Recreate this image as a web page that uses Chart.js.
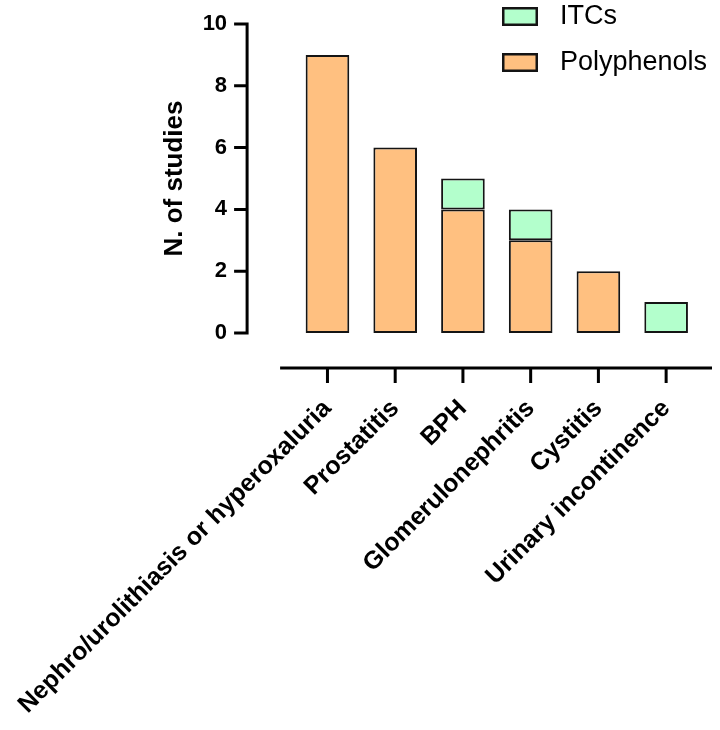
<!DOCTYPE html>
<html>
<head>
<meta charset="utf-8">
<script src="https://cdn.jsdelivr.net/npm/chart.js@4"></script>
<style>
html,body{margin:0;padding:0;background:#fff}
#wrap{width:720px;height:730px;position:relative}
</style>
</head>
<body>
<div id="wrap"><canvas id="c" width="720" height="730"></canvas></div>
<script>
// ---- data ----
const categories = ['Nephro/urolithiasis or hyperoxaluria', 'Prostatitis', 'BPH', 'Glomerulonephritis', 'Cystitis', 'Urinary incontinence'];
const polyphenols = [9, 6, 4, 3, 2, 0];
const itcs = [0, 0, 1, 1, 0, 1];
const seriesNames = ['Polyphenols', 'ITCs'];
const yTickValues = [0, 2, 4, 6, 8, 10];
const yTitle = 'N. of studies';

// ---- styles ----
const FONT = '"Liberation Sans", Arial, Helvetica, sans-serif';
const colors = { poly: '#FFC080', itc: '#B3FFCC', edge: '#141414' };
Chart.defaults.font.family = FONT;
Chart.defaults.color = '#000';

// Prism-style detached axes drawn from scale positions
const prismAxes = {
  id: 'prismAxes',
  afterDraw(chart) {
    const { ctx, chartArea: a, scales: { x, y } } = chart;
    ctx.save();
    ctx.strokeStyle = '#000';
    ctx.lineWidth = 3;
    ctx.lineCap = 'butt';
    const ax = a.left - 46.5;
    ctx.beginPath();
    ctx.moveTo(ax, y.getPixelForValue(y.max) - 1.5);
    ctx.lineTo(ax, y.getPixelForValue(y.min) + 1.5);
    y.ticks.forEach(t => {
      const py = y.getPixelForValue(t.value);
      ctx.moveTo(ax, py);
      ctx.lineTo(ax - 13, py);
    });
    ctx.stroke();
    const ay = a.bottom + 35;
    ctx.beginPath();
    ctx.moveTo(a.left - 13.5, ay);
    ctx.lineTo(a.right + 12, ay);
    x.ticks.forEach((t, i) => {
      const px = x.getPixelForTick(i);
      ctx.moveTo(px, ay);
      ctx.lineTo(px, ay + 15);
    });
    ctx.stroke();
    ctx.restore();
  }
};

// Legend (ITCs above Polyphenols), drawn from the datasets
const prismLegend = {
  id: 'prismLegend',
  afterDraw(chart) {
    const ctx = chart.ctx;
    const items = chart.data.datasets.slice().reverse();
    ctx.save();
    ctx.font = '27px ' + FONT;
    ctx.textBaseline = 'middle';
    ctx.textAlign = 'left';
    items.forEach((ds, i) => {
      const cy = 16.5 + i * 46;
      ctx.fillStyle = ds.backgroundColor;
      ctx.fillRect(502, cy - 9.5, 36, 19);
      ctx.strokeStyle = colors.edge;
      ctx.lineWidth = 2.5;
      ctx.strokeRect(503.25, cy - 8.25, 33.5, 16.5);
      ctx.fillStyle = '#000';
      ctx.fillText(ds.label, 560, cy);
    });
    ctx.restore();
  }
};

const barCommon = {
  borderColor: colors.edge,
  borderWidth: 2,
  borderSkipped: false,
  barPercentage: 0.644,
  categoryPercentage: 1
};

new Chart(document.getElementById('c'), {
  type: 'bar',
  data: {
    labels: categories,
    datasets: [
      Object.assign({ label: seriesNames[0], data: polyphenols, backgroundColor: colors.poly }, barCommon),
      Object.assign({ label: seriesNames[1], data: itcs, backgroundColor: colors.itc }, barCommon)
    ]
  },
  options: {
    responsive: false,
    animation: false,
    devicePixelRatio: 1,
    layout: { padding: { top: 24, right: 20, left: 0, bottom: 0 } },
    plugins: { legend: { display: false }, tooltip: { enabled: false } },
    scales: {
      x: {
        stacked: true,
        offset: true,
        grid: { display: false, drawTicks: false },
        border: { display: false },
        ticks: {
          autoSkip: false,
          minRotation: 45,
          maxRotation: 45,
          padding: 61,
          color: '#000',
          font: { size: 25, weight: 'bold' }
        },
        afterFit(s) { s.height = 397; s.paddingLeft = 0; s.paddingRight = 0; }
      },
      y: {
        stacked: true,
        min: 0,
        max: 10,
        afterBuildTicks(s) { s.ticks = yTickValues.map(v => ({ value: v })); },
        grid: { display: false, drawTicks: false },
        border: { display: false },
        ticks: {
          padding: 66.5,
          color: '#000',
          font: { size: 22, weight: 'bold' }
        },
        title: {
          display: true,
          text: yTitle,
          color: '#000',
          font: { size: 26, weight: 'bold' },
          padding: { top: 159, bottom: 0 }
        },
        afterFit(s) { s.width = 293.6; s.paddingTop = 0; s.paddingBottom = 0; }
      }
    }
  },
  plugins: [prismAxes, prismLegend]
});
</script>
</body>
</html>
